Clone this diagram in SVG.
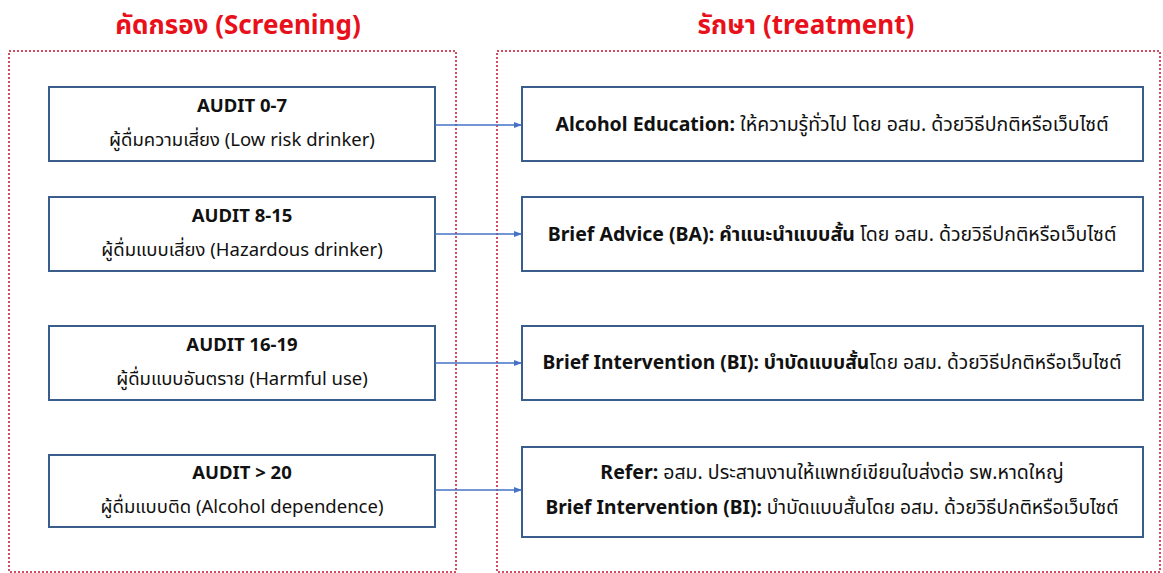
<svg xmlns="http://www.w3.org/2000/svg" width="1163" height="573" viewBox="0 0 1163 573">
<style>
.t{font-family:"Noto Sans","Noto Sans Thai","DejaVu Sans",sans-serif;fill:#111;text-anchor:middle;font-size:18.5px}
.r{font-size:19.5px}
.r2{font-size:19.2px}
.b{font-weight:bold}
.title{font-family:"Noto Sans","Noto Sans Thai","DejaVu Sans",sans-serif;fill:#E8111B;font-weight:bold;font-size:26px;text-anchor:middle}
.box{fill:#fff;stroke:#3A5E8C;stroke-width:2}
.cont{fill:none;stroke:#C8102E;stroke-width:1.5;stroke-dasharray:2 2}
.conn{stroke:#4472C4;stroke-width:1.5;fill:none}
</style>
<defs>
<marker id="ah" markerWidth="8" markerHeight="8" refX="7" refY="4" orient="auto" markerUnits="userSpaceOnUse">
<path d="M0,1 L8,4 L0,7 Z" fill="#4472C4"/>
</marker>
</defs>
<rect width="1163" height="573" fill="#fff"/>
<g id="screening-panel">
<text class="title" x="238" y="34">คัดกรอง (Screening)</text>
<rect class="cont" x="9" y="51" width="447" height="521"/>
</g>
<g id="treatment-panel">
<text class="title" x="806" y="34">รักษา (treatment)</text>
<rect class="cont" x="497" y="51" width="663" height="521"/>
</g>
<g id="s1">
<rect class="box" x="49" y="87" width="386" height="74"/>
<text class="t b" x="242" y="112">AUDIT 0-7</text>
<text class="t" x="242" y="146">ผู้ดื่มความเสี่ยง (Low risk drinker)</text>
</g>
<g id="s2">
<rect class="box" x="49" y="197" width="386" height="74"/>
<text class="t b" x="242" y="222">AUDIT 8-15</text>
<text class="t" x="242" y="256">ผู้ดื่มแบบเสี่ยง (Hazardous drinker)</text>
</g>
<g id="s3">
<rect class="box" x="49" y="326" width="386" height="74"/>
<text class="t b" x="242" y="351">AUDIT 16-19</text>
<text class="t" x="242" y="385">ผู้ดื่มแบบอันตราย (Harmful use)</text>
</g>
<g id="s4">
<rect class="box" x="49" y="455" width="386" height="72"/>
<text class="t b" x="242" y="479">AUDIT &gt; 20</text>
<text class="t" x="242" y="513">ผู้ดื่มแบบติด (Alcohol dependence)</text>
</g>
<g id="r1">
<rect class="box" x="522" y="87" width="621" height="74"/>
<text class="t r" x="832" y="131"><tspan class="b">Alcohol Education:</tspan> ให้ความรู้ทั่วไป โดย อสม. ด้วยวิธีปกติหรือเว็บไซต์</text>
</g>
<g id="r2">
<rect class="box" x="522" y="197" width="621" height="74"/>
<text class="t r" x="832" y="241"><tspan class="b">Brief Advice (BA): คำแนะนำแบบสั้น</tspan> โดย อสม. ด้วยวิธีปกติหรือเว็บไซต์</text>
</g>
<g id="r3">
<rect class="box" x="522" y="326" width="621" height="74"/>
<text class="t r2" x="832" y="369"><tspan class="b">Brief Intervention (BI): บำบัดแบบสั้น</tspan>โดย อสม. ด้วยวิธีปกติหรือเว็บไซต์</text>
</g>
<g id="r4">
<rect class="box" x="522" y="447" width="621" height="90"/>
<text class="t r" x="832" y="479"><tspan class="b">Refer:</tspan> อสม. ประสานงานให้แพทย์เขียนใบส่งต่อ รพ.หาดใหญ่</text>
<text class="t r2" x="832" y="514"><tspan class="b">Brief Intervention (BI):</tspan> บำบัดแบบสั้นโดย อสม. ด้วยวิธีปกติหรือเว็บไซต์</text>
</g>
<g id="connectors">
<line class="conn" x1="435" y1="125" x2="521" y2="125" marker-end="url(#ah)"/>
<line class="conn" x1="435" y1="234" x2="521" y2="234" marker-end="url(#ah)"/>
<line class="conn" x1="435" y1="363" x2="521" y2="363" marker-end="url(#ah)"/>
<line class="conn" x1="435" y1="490" x2="521" y2="490" marker-end="url(#ah)"/>
</g>
</svg>
